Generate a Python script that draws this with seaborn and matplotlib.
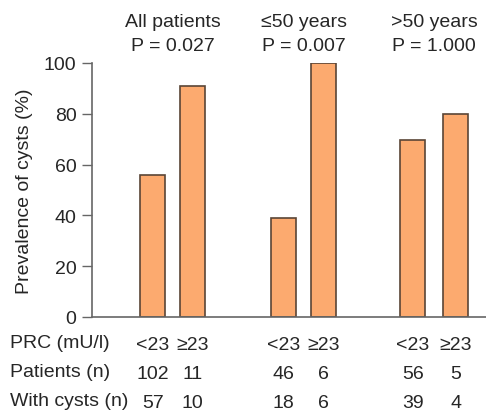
import numpy as np
import pandas as pd
import seaborn as sns
import matplotlib.pyplot as plt
from matplotlib.transforms import blended_transform_factory

# --- data ---
groups = ['All patients', '\u226450 years', '>50 years']
p_values = ['P = 0.027', 'P = 0.007', 'P = 1.000']
prc_labels = ['<23', '\u226523', '<23', '\u226523', '<23', '\u226523']
patients_n = [102, 11, 46, 6, 56, 5]
cysts_n = [57, 10, 18, 6, 39, 4]
prevalence = [55.9, 90.9, 39.1, 100.0, 69.6, 80.0]

# layout: bar centres along the x axis (irregular group gaps)
bar_pos = [0.0, 1.0, 3.32, 4.33, 6.59, 7.68]

df = pd.DataFrame({'pos': bar_pos, 'prev': prevalence})

sns.set_style('ticks')
plt.rcParams['font.family'] = ['Liberation Sans', 'DejaVu Sans']
plt.rcParams['font.size'] = 14

fig = plt.figure(figsize=(4.86, 4.14), dpi=100)
ax = fig.add_axes([91.7 / 486, 96 / 414, 1 - 91.7 / 486, 254 / 414])

sns.barplot(data=df, x='pos', y='prev', native_scale=True, width=0.625,
            color='#FCAA6F', saturation=1, edgecolor='#5a4536', linewidth=1.2,
            ax=ax)

ax.set_xlim(-1.55, 8.45)
ax.set_ylim(0, 100)
ax.set_yticks([0, 20, 40, 60, 80, 100])
ax.set_xticks([])
ax.set_xlabel('')
ax.set_ylabel('Prevalence of cysts (%)', fontsize=14, labelpad=8)
ax.tick_params(axis='y', length=7, width=1, color='#666666', labelsize=14, pad=4)
sns.despine(ax=ax, top=True, right=True)
for s in ['left', 'bottom']:
    ax.spines[s].set_color('#666666')
    ax.spines[s].set_linewidth(1.2)

# group titles above the bars
tr = blended_transform_factory(ax.transData, ax.transAxes)
for i, (g, p) in enumerate(zip(groups, p_values)):
    xc = (bar_pos[2 * i] + bar_pos[2 * i + 1]) / 2
    ax.text(xc, 1.165, g, transform=tr, ha='center', va='center', fontsize=14, clip_on=False)
    ax.text(xc, 1.067, p, transform=tr, ha='center', va='center', fontsize=14, clip_on=False)

# table below the axis
row_names = ['PRC (mU/l)', 'Patients (n)', 'With cysts (n)']
row_vals = [prc_labels, patients_n, cysts_n]
row_y = [-0.102, -0.215, -0.330]
for name, vals, yy in zip(row_names, row_vals, row_y):
    fig.text(10 / 486, 1 - (318 - yy * 254) / 414, name, ha='left', va='center', fontsize=14)
    for xp, v in zip(bar_pos, vals):
        ax.text(xp, yy - 0.008, str(v), transform=tr, ha='center', va='center',
                fontsize=14, clip_on=False)

fig.savefig('out.png', dpi=100)
